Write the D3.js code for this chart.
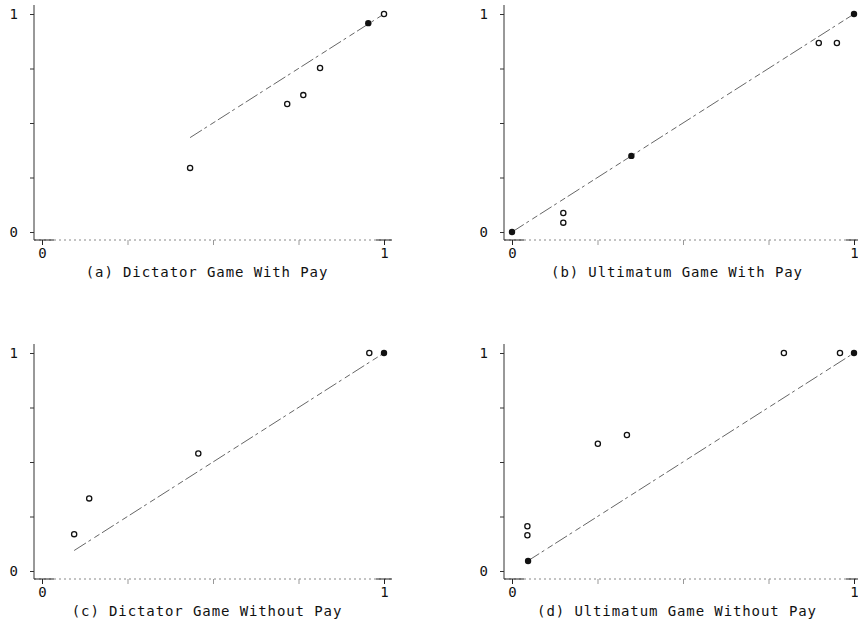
<!DOCTYPE html>
<html>
<head>
<meta charset="utf-8">
<script src="https://cdn.jsdelivr.net/npm/d3@7"></script>
<style>
  body { margin: 0; background: #fff; }
  svg { display: block; }
  .tick text { font-family: "DejaVu Sans Mono", monospace; font-size: 14px; fill: #111; }
  .caption { font-family: "DejaVu Sans Mono", monospace; font-size: 14px; letter-spacing: 0.9px; fill: #111; }
</style>
</head>
<body>
<svg id="chart" width="858" height="625"></svg>
<script>
// panel captions
const captions = [
  "(a) Dictator Game With Pay",
  "(b) Ultimatum Game With Pay",
  "(c) Dictator Game Without Pay",
  "(d) Ultimatum Game Without Pay"
];

// [x, y]
const aOpen = [[0.433, 0.294], [0.717, 0.587], [0.764, 0.628], [0.813, 0.752], [1.0, 1.0]];
const aFilled = [[0.954, 0.958]];

const bOpen = [[0.15, 0.087], [0.15, 0.043], [0.897, 0.867], [0.95, 0.867]];
const bFilled = [[0.0, 0.0], [0.349, 0.349], [1.0, 1.0]];

const cOpen = [[0.094, 0.169], [0.138, 0.333], [0.457, 0.539], [0.957, 1.0]];
const cFilled = [[1.0, 1.0]];

const dOpen = [[0.045, 0.205], [0.045, 0.164], [0.251, 0.584], [0.336, 0.624], [0.795, 1.0], [0.959, 1.0]];
const dFilled = [[0.047, 0.046], [1.0, 1.0]];

const tickValues = [0, 0.25, 0.5, 0.75, 1];
const tickLabels = ["0", "", "", "", "1"];

const svg = d3.select("#chart");
const pw = 342, ph = 218;

const panels = [
  { left: 42,  top: 14,  open: aOpen, filled: aFilled, caption: captions[0] },
  { left: 512, top: 14,  open: bOpen, filled: bFilled, caption: captions[1] },
  { left: 42,  top: 353, open: cOpen, filled: cFilled, caption: captions[2] },
  { left: 512, top: 353, open: dOpen, filled: dFilled, caption: captions[3] }
];

panels.forEach(p => {
  const x = d3.scaleLinear().domain([0, 1]).range([p.left, p.left + pw]);
  const y = d3.scaleLinear().domain([0, 1]).range([p.top + ph, p.top]);
  const axX = p.left - 8, axY = p.top + ph + 8;

  // axis lines
  svg.append("line")
    .attr("x1", axX).attr("x2", axX)
    .attr("y1", p.top - 9).attr("y2", axY)
    .attr("stroke", "#333").attr("stroke-width", 1);
  svg.append("line")
    .attr("x1", axX).attr("x2", x(1) + 8)
    .attr("y1", axY).attr("y2", axY)
    .attr("stroke", "#888").attr("stroke-width", 1)
    .attr("stroke-dasharray", "2 3");
  svg.append("line")
    .attr("x1", axX).attr("x2", x(0) + 12)
    .attr("y1", axY).attr("y2", axY)
    .attr("stroke", "#222");
  svg.append("line")
    .attr("x1", x(1) - 8).attr("x2", x(1) + 8)
    .attr("y1", axY).attr("y2", axY)
    .attr("stroke", "#222");

  const yAxis = svg.append("g")
    .attr("transform", `translate(${axX},0)`)
    .call(d3.axisLeft(y).tickValues(tickValues).tickSize(4).tickPadding(12)
      .tickFormat((d, i) => tickLabels[i]));
  yAxis.select(".domain").remove();
  yAxis.selectAll(".tick line").attr("stroke", "#333");

  const xAxis = svg.append("g")
    .attr("transform", `translate(0,${axY})`)
    .call(d3.axisBottom(x).tickValues(tickValues).tickSize(5).tickPadding(3)
      .tickFormat((d, i) => tickLabels[i]));
  xAxis.select(".domain").remove();
  xAxis.selectAll(".tick line")
    .attr("stroke", (d, i) => (i === 0 || i === 4) ? "#222" : "#999");

  // diagonal reference line y = x from the smallest x
  const allPts = p.open.concat(p.filled);
  const x0 = d3.min(allPts, d => d[0]);
  svg.append("path")
    .datum([[x0, x0], [1, 1]])
    .attr("d", d3.line().x(d => x(d[0])).y(d => y(d[1])))
    .attr("fill", "none")
    .attr("stroke", "#666")
    .attr("stroke-width", 1)
    .attr("stroke-dasharray", "14 3 3 4 6 3");

  svg.selectAll(null)
    .data(p.open)
    .enter().append("circle")
    .attr("cx", d => x(d[0])).attr("cy", d => y(d[1]))
    .attr("r", 2.6)
    .attr("fill", "#fff")
    .attr("stroke", "#111")
    .attr("stroke-width", 1.3);

  svg.selectAll(null)
    .data(p.filled)
    .enter().append("circle")
    .attr("cx", d => x(d[0])).attr("cy", d => y(d[1]))
    .attr("r", 3.2)
    .attr("fill", "#111");

  svg.append("text")
    .attr("class", "caption")
    .attr("x", (x(0) + x(1)) / 2 - 6)
    .attr("y", axY + 37)
    .attr("text-anchor", "middle")
    .text(p.caption);
});
</script>
</body>
</html>
